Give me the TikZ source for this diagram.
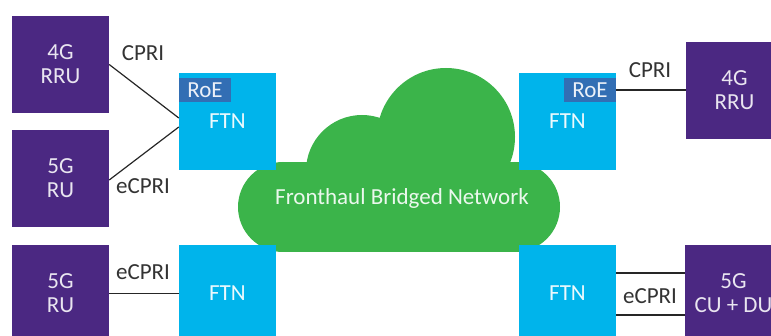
\documentclass[tikz,border=0pt]{standalone}
\usepackage{fontspec}
\setmainfont{Carlito}
\usepackage{tikz}
\usetikzlibrary{positioning}

\definecolor{ruPurple}{RGB}{75,40,130}
\definecolor{ftnBlue}{RGB}{0,180,235}
\definecolor{roeBlue}{RGB}{50,110,180}
\definecolor{cloudGreen}{RGB}{59,180,74}
\definecolor{labelGray}{RGB}{51,51,51}

\begin{document}
\begin{tikzpicture}[x=1pt, y=-1pt,
	radio/.style={fill=ruPurple, text=white!88!ruPurple, minimum width=97pt, minimum height=97pt, inner sep=0pt, align=center, font=\fontsize{23}{24}\selectfont},
	ftn/.style={fill=ftnBlue, text=white!92!ftnBlue, minimum width=97pt, minimum height=97pt, inner sep=0pt, font=\fontsize{23}{24}\selectfont},
	roe/.style={fill=roeBlue, text=white!90!roeBlue, minimum width=52pt, minimum height=24pt, inner sep=0pt, font=\fontsize{23}{24}\selectfont},
	proto/.style={text=labelGray, inner sep=0pt, font=\fontsize{23}{24}\selectfont},
	link/.style={draw=black!85, line width=1.2pt}]
		\useasboundingbox (0,0) rectangle (771,336);
		\clip (0,0) rectangle (771,336);
		\fill[cloudGreen] (283,207) circle (45pt);
		\fill[cloudGreen] (515,207) circle (45pt);
		\fill[cloudGreen] (362,171) circle (56pt);
		\fill[cloudGreen] (446,137) circle (69pt);
		\fill[cloudGreen] (283,162) rectangle (515,252);
		\node[text=white!90!cloudGreen, font=\fontsize{23}{24}\selectfont] (fbn) at (402,198) {Fronthaul Bridged Network};
		\node[radio] (rruA) at (60.5,64.5) {4G\\RRU};
		\node[radio] (ruA) at (60.5,178.5) {5G\\RU};
		\node[radio] (ruB) at (60.5,293.5) {5G\\RU};
		\node[ftn] (ftnA) at (227.5,121.5) {FTN};
		\node[ftn] (ftnB) at (227.5,293.5) {FTN};
		\node[ftn] (ftnC) at (567.5,121.5) {FTN};
		\node[ftn] (ftnD) at (567.5,293.5) {FTN};
		\node[radio] (rruB) at (734.5,90.5) {4G\\RRU};
		\node[radio] (cudu) at (733.5,293.5) {5G\\CU + DU};
		\node[roe, anchor=north west] (roeA) at ([yshift=-5pt]ftnA.north west) {RoE};
		\node[roe, anchor=north east] (roeC) at ([yshift=-5pt]ftnC.north east) {RoE};
		\node[proto] (cpriA) at (143,53) {CPRI};
		\node[proto] (ecpriA) at (143,186) {eCPRI};
		\node[proto] (ecpriB) at (143,272) {eCPRI};
		\node[proto] (cpriC) at (650,70) {CPRI};
		\node[proto] (ecpriD) at (650,296) {eCPRI};
		\draw[link] (rruA.east) -- ([yshift=3.5pt]ftnA.west);
		\draw[link] ([yshift=-1.5pt]ruA.east) -- ([yshift=-5.5pt]ftnA.west);
		\draw[link] (ruB.east) -- (ftnB.west);
		\draw[link] (roeC.east) -- (roeC.east -| rruB.west);
		\draw[link] ([yshift=20.5pt]ftnD.east) -- ([yshift=20.5pt]cudu.west);
		\draw[link] ([yshift=-21.5pt]ftnD.east) -- ([yshift=-21.5pt]cudu.west);
\end{tikzpicture}
\end{document}
